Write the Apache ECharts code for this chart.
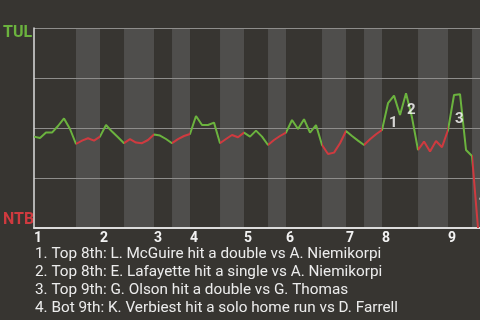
<!DOCTYPE html>
<html><head><meta charset="utf-8">
<script src="https://cdn.jsdelivr.net/npm/echarts@6/dist/echarts.min.js"></script>
<style>html,body{margin:0;padding:0;background:#373531;}#c{width:480px;height:320px;}</style>
</head><body><div id="c"></div>
<script>
// TUL win probability (%) after each plate appearance (event index 0..74)
const winProb = [
  45.7, 45.0, 47.7, 47.7, 51.0, 54.8, 49.5, 42.0, 43.7, 44.9,
  43.7, 45.7, 51.5, 48.2, 45.4, 42.4, 44.4, 42.7, 42.4, 44.0,
  46.8, 46.2, 44.5, 42.4, 44.4, 46.0, 47.0, 56.0, 51.5, 51.5,
  52.7, 42.4, 44.5, 46.5, 45.4, 47.7, 45.7, 48.7, 45.7, 41.5,
  44.0, 46.0, 47.7, 54.0, 49.5, 54.4, 47.7, 51.5, 41.5, 37.0,
  37.7, 42.4, 48.5, 46.0, 43.7, 41.5, 44.4, 46.9, 49.0, 62.4,
  66.2, 56.5, 67.4, 55.2, 39.0, 43.2, 38.2, 43.5, 40.4, 49.0,
  66.5, 66.9, 39.0, 36.0, 0.0
];
// event index where each half inning starts (top 1st, bot 1st, top 2nd, ...)
const halfInningStarts = [0, 7, 11, 15, 20, 23, 26, 31, 35, 39, 42, 48, 52, 55, 58, 64, 69, 73];
const lastIndex = 74;
const xMax = 74.33; // visible axis extent in events
const inningStarts = [0, 11, 20, 26, 35, 42, 52, 58, 69];
const inningLabels = ['1', '2', '3', '4', '5', '6', '7', '8', '9'];
// key events: index of the plate appearance that starts the segment
const keyEventIdx = [58, 61, 69, 73];
const keyEventLabels = ['1', '2', '3', '4'];
const notes = [
  '1. Top 8th: L. McGuire hit a double vs A. Niemikorpi',
  '2. Top 8th: E. Lafayette hit a single vs A. Niemikorpi',
  '3. Top 9th: G. Olson hit a double vs G. Thomas',
  '4. Bot 9th: K. Verbiest hit a solo home run vs D. Farrell'
];
const awayTeam = 'TUL', homeTeam = 'NTB';

const GREEN = '#6bb33e', RED = '#cf3a3f', BAND = '#4f4e4c', BG = '#373531';

const lineData = winProb.map((v, i) => [i, v]);
const pieces = halfInningStarts.map((s, i) => {
  const e = i + 1 < halfInningStarts.length ? halfInningStarts[i + 1] : lastIndex + 2;
  return { gte: s, lt: e, color: i % 2 === 0 ? GREEN : RED };
});
const bands = [];
for (let i = 1; i < halfInningStarts.length; i += 2) {
  const e = i + 1 < halfInningStarts.length ? halfInningStarts[i + 1] : xMax;
  bands.push([{ xAxis: halfInningStarts[i] }, { xAxis: e }]);
}
const eventPts = keyEventIdx.map((k, j) => ({
  value: [k + 0.5, (winProb[k] + winProb[k + 1]) / 2],
  name: keyEventLabels[j]
}));

const chart = echarts.init(document.getElementById('c'), null, { renderer: 'canvas' });
chart.setOption({
  backgroundColor: BG,
  animation: false,
  grid: { left: 34, top: 28, right: 0, height: 200 },
  xAxis: {
    type: 'value', min: 0, max: xMax, z: 2,
    splitLine: { show: false },
    axisLine: { show: true, lineStyle: { color: '#dcdcdc', width: 2 } },
    axisTick: { show: false },
    axisLabel: {
      customValues: inningStarts,
      formatter: v => inningLabels[inningStarts.indexOf(v)] || '',
      color: '#f2f2f2', fontFamily: 'Roboto', fontWeight: 'bold', fontSize: 14,
      align: 'left', verticalAlign: 'top', margin: 3
    }
  },
  yAxis: {
    type: 'value', min: 0, max: 100, interval: 25, z: 2,
    axisLine: { show: true, lineStyle: { color: '#dcdcdc', width: 1.5 } },
    axisTick: { show: false },
    axisLabel: { show: false },
    splitLine: { show: true, lineStyle: { color: '#8e8d8b', width: 1 } }
  },
  visualMap: {
    show: false, type: 'piecewise', dimension: 0, seriesIndex: 1, pieces: pieces
  },
  series: [
    {
      type: 'line', data: [], z: 1, silent: true,
      markArea: { silent: true, itemStyle: { color: BAND }, data: bands }
    },
    {
      type: 'line', data: lineData, z: 3, symbol: 'none', silent: true,
      lineStyle: { width: 2 }
    },
    {
      type: 'scatter', data: eventPts, z: 4, symbolSize: 0, silent: true,
      label: {
        show: true, formatter: p => p.name, position: [4, -1],
        align: 'left', verticalAlign: 'top',
        color: '#ffffff', fontFamily: 'Roboto', fontWeight: 'bold', fontSize: 15
      }
    }
  ],
  graphic: [
    { type: 'text', left: 3, top: 25, style: { text: awayTeam, fill: GREEN, font: 'bold 16px Roboto' } },
    { type: 'text', left: 3, top: 212, style: { text: homeTeam, fill: RED, font: 'bold 16px Roboto' } },
    { type: 'text', left: 35, top: 245, style: { text: notes.join('\n'), fill: '#ececec', font: '15.3px Roboto', lineHeight: 18 } }
  ]
});
</script></body></html>
